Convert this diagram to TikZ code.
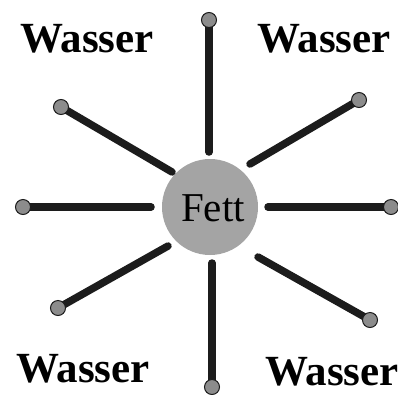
\documentclass[tikz,border=0pt]{standalone}
\usepackage{fontspec}
\setmainfont{Liberation Serif}
\usetikzlibrary{calc}

\definecolor{fettgray}{HTML}{A4A4A4}
\definecolor{headgray}{HTML}{8C8C8C}
\definecolor{stickcol}{HTML}{1C1C1C}

\tikzset{
  stick/.style={draw=stickcol,line width=7.5pt,line cap=round},
  head/.style={circle,fill=headgray,draw=stickcol,line width=1pt,minimum size=15pt,inner sep=0pt},
  wlabel/.style={inner sep=0pt,font=\fontsize{43}{43}\selectfont\bfseries},
}

\begin{document}
\begin{tikzpicture}[x=1pt,y=-1pt]
  \useasboundingbox (0,0) rectangle (398,394);
  % fat head in the middle
  \node[circle,fill=fettgray,minimum size=96pt,inner sep=0pt] (fett) at (210,207) {};
  \node[inner sep=0pt,font=\fontsize{41}{41}\selectfont] (fetttext) at (213,208) {Fett};
  % eight chains: head position / inner end
  \foreach \i/\hx/\hy/\ex/\ey in {1/209/20/209/152,2/359/100/250/164,3/391/207/268/207,
      4/370/320/258/257,5/212/387/212/263,6/58/308/168/246,7/23/207/151/207,8/61/107/172/172}{
    \coordinate (h\i) at (\hx,\hy);
    \coordinate (e\i) at (\ex,\ey);
    \draw[stick] (e\i) -- (h\i);
    \node[head] (hd\i) at (h\i) {};
  }
  % water all around
  \node[wlabel] (w1) at (87,39) {Wasser};
  \node[wlabel] (w2) at (324,39) {Wasser};
  \node[wlabel] (w3) at (83,369) {Wasser};
  \node[wlabel] (w4) at (332,372) {Wasser};
\end{tikzpicture}
\end{document}
